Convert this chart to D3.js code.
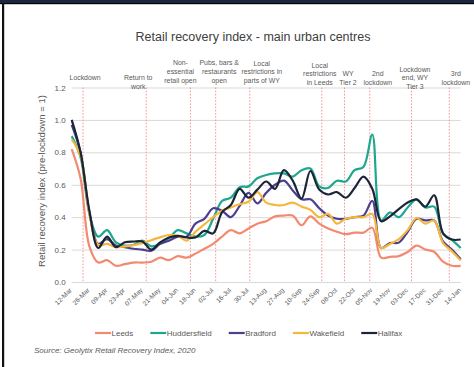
<!DOCTYPE html>
<html>
<head>
<meta charset="utf-8">
<script src="https://cdnjs.cloudflare.com/ajax/libs/d3/7.8.5/d3.min.js"></script>
<style>
body { margin: 0; background: #fff; }
svg { display: block; font-family: "Liberation Sans", Arial, sans-serif; }
</style>
</head>
<body>
<div id="chart"></div>
<script>
// weekly index values, first week 12-Mar-2020
var firstWeek = "2020-03-12";

var leeds = [0.82, 0.64, 0.22, 0.12, 0.135, 0.10, 0.11, 0.12, 0.12, 0.125,
    0.15, 0.135, 0.16, 0.15, 0.175, 0.205, 0.235, 0.28, 0.32, 0.30,
    0.33, 0.36, 0.375, 0.405, 0.41, 0.41, 0.35, 0.405, 0.36, 0.33,
    0.31, 0.295, 0.305, 0.305, 0.335, 0.15, 0.155, 0.16, 0.185, 0.225,
    0.20, 0.187, 0.125, 0.10, 0.10];
var huddersfield = [0.90, 0.77, 0.42, 0.28, 0.32, 0.245, 0.225, 0.23, 0.255, 0.22,
    0.235, 0.27, 0.32, 0.30, 0.28, 0.29, 0.39, 0.50, 0.52, 0.585,
    0.59, 0.64, 0.66, 0.67, 0.67, 0.65, 0.69, 0.70, 0.59, 0.58,
    0.625, 0.62, 0.69, 0.71, 0.91, 0.38, 0.43, 0.40, 0.46, 0.51,
    0.46, 0.465, 0.30, 0.26, 0.21];
var bradford = [0.97, 0.80, 0.43, 0.235, 0.265, 0.225, 0.215, 0.205, 0.20, 0.193,
    0.235, 0.255, 0.28, 0.28, 0.36, 0.39, 0.455, 0.44, 0.40, 0.47,
    0.55, 0.485, 0.55, 0.60, 0.625, 0.565, 0.51, 0.51, 0.455, 0.41,
    0.39, 0.39, 0.40, 0.41, 0.50, 0.21, 0.24, 0.243, 0.31, 0.39,
    0.38, 0.38, 0.25, 0.20, 0.14];
var wakefield = [0.88, 0.78, 0.42, 0.23, 0.235, 0.215, 0.22, 0.228, 0.24, 0.258,
    0.275, 0.29, 0.285, 0.255, 0.31, 0.355, 0.40, 0.44, 0.46, 0.48,
    0.495, 0.555, 0.49, 0.475, 0.475, 0.49, 0.465, 0.445, 0.40, 0.42,
    0.36, 0.39, 0.40, 0.40, 0.42, 0.21, 0.235, 0.265, 0.32, 0.395,
    0.36, 0.38, 0.24, 0.19, 0.133];
var halifax = [1.00, 0.80, 0.44, 0.21, 0.28, 0.215, 0.245, 0.25, 0.25, 0.20,
    0.245, 0.275, 0.285, 0.275, 0.275, 0.315, 0.30, 0.43, 0.475, 0.575,
    0.52, 0.57, 0.62, 0.575, 0.69, 0.625, 0.515, 0.685, 0.57, 0.54,
    0.555, 0.52, 0.58, 0.65, 0.575, 0.375, 0.405, 0.45, 0.49, 0.51,
    0.465, 0.535, 0.30, 0.262, 0.262];

var seriesNames = ["Leeds", "Huddersfield", "Bradford", "Wakefield", "Halifax"];
var seriesValues = [leeds, huddersfield, bradford, wakefield, halifax];

var tickLabels = ["12-Mar", "26-Mar", "09-Apr", "23-Apr", "07-May", "21-May", "04-Jun",
    "18-Jun", "02-Jul", "16-Jul", "30-Jul", "13-Aug", "27-Aug", "10-Sep", "24-Sep",
    "08-Oct", "22-Oct", "05-Nov", "19-Nov", "03-Dec", "17-Dec", "31-Dec", "14-Jan"];
var yTicks = [0, 0.2, 0.4, 0.6, 0.8, 1.0, 1.2];

var eventDates = ["2020-03-21", "2020-05-10", "2020-06-14", "2020-07-04", "2020-07-31",
    "2020-09-26", "2020-10-14", "2020-11-03", "2020-12-06", "2021-01-05"];
var eventNotes = [["Lockdown"], ["Return to", "work"], ["Non-", "essential", "retail open"],
    ["Pubs, bars &", "restaurants", "open"], ["Local", "restrictions in", "parts of WY"],
    ["Local", "restrictions", "in Leeds"], ["WY", "Tier 2"], ["2nd", "lockdown"],
    ["Lockdown", "end, WY", "Tier 3"], ["3rd", "lockdown"]];

(function() {

    var width = 474,
        height = 367;

    var colors = ["#f38a6f", "#1fa78e", "#4a3f90", "#f5b73c", "#1c2438"];
    // where each note sits relative to its line (dx) and its last baseline
    var noteDx = [2, -8, -10, 3.5, 12, -2, 3.5, 8, 3.5, 6.5];
    var noteBase = [80, 88.5, 82.5, 82.5, 83, 85, 85, 84.5, 89, 85];

    var svg = d3.select("#chart")
        .append("svg")
        .attr("width", width)
        .attr("height", height)

    // frame of the screenshot
    svg.append("rect").attr("x", 0).attr("y", 0).attr("width", width).attr("height", 3).attr("fill", "#1b2740")
    svg.append("rect").attr("x", 0).attr("y", 3).attr("width", width).attr("height", 1.2).attr("fill", "#000")
    svg.append("rect").attr("x", 2).attr("y", 3).attr("width", 2.2).attr("height", height).attr("fill", "#111")

    var parse = d3.timeParse("%Y-%m-%d");
    var start = parse(firstWeek);
    var weeks = leeds.map(function(d, i) { return d3.timeDay.offset(start, i * 7); });

    var x = d3.scaleTime()
        .domain([weeks[0], weeks[weeks.length - 1]])
        .range([71.7, 460.7]);
    var y = d3.scaleLinear()
        .domain([0, 1.2])
        .range([282, 87.5]);

    svg.append("text")
        .attr("x", 253)
        .attr("y", 40.5)
        .attr("text-anchor", "middle")
        .attr("font-size", 12.5)
        .attr("fill", "#404040")
        .text("Retail recovery index - main urban centres")

    // gridlines + y labels
    var yAxis = d3.axisLeft(y)
        .tickValues(yTicks)
        .tickSize(-(x.range()[1] - x.range()[0]))
        .tickPadding(6)
        .tickFormat(d3.format(".1f"));
    var gy = svg.append("g")
        .attr("transform", "translate(" + x.range()[0] + ",0)")
        .call(yAxis)
    gy.select(".domain").remove()
    gy.selectAll("line").attr("stroke", "#d9d9d9")
    gy.selectAll("text").attr("fill", "#595959").attr("font-size", 8)
        .attr("font-family", "Liberation Sans, Arial, sans-serif")

    svg.append("text")
        .attr("transform", "translate(45,181) rotate(-90)")
        .attr("text-anchor", "middle")
        .attr("font-size", 9.6)
        .attr("fill", "#595959")
        .text("Retail recovery index (pre-lockdown = 1)")

    // event lines
    svg.selectAll(".event")
        .data(eventDates)
        .enter().append("line")
        .attr("class", "event")
        .attr("x1", function(d) { return x(parse(d)); })
        .attr("x2", function(d) { return x(parse(d)); })
        .attr("y1", y(1.2))
        .attr("y2", y(0))
        .attr("stroke", "#f08a8a")
        .attr("stroke-width", 0.9)
        .attr("stroke-dasharray", "1.6,1.6")

    var notes = svg.selectAll(".note")
        .data(eventNotes)
        .enter().append("text")
        .attr("class", "note")
        .attr("text-anchor", "middle")
        .attr("font-size", 6.9)
        .attr("fill", "#595959")
    notes.each(function(lines, i) {
        var cx = x(parse(eventDates[i])) + noteDx[i];
        d3.select(this).selectAll("tspan")
            .data(lines)
            .enter().append("tspan")
            .attr("x", cx)
            .attr("y", function(d, j) { return noteBase[i] - (lines.length - 1 - j) * 8.6; })
            .text(function(d) { return d; })
    })

    // x tick labels (every other week)
    svg.selectAll(".xlab")
        .data(tickLabels)
        .enter().append("text")
        .attr("class", "xlab")
        .attr("transform", function(d, i) {
            return "translate(" + (x(weeks[i * 2]) - 1) + ",289) rotate(-45)";
        })
        .attr("text-anchor", "end")
        .attr("dy", "0.35em")
        .attr("font-size", 6.6)
        .attr("fill", "#595959")
        .text(function(d) { return d; })

    var line = d3.line()
        .x(function(d, i) { return x(weeks[i]); })
        .y(function(d) { return y(d); })
        .curve(d3.curveCatmullRom.alpha(0.5));

    svg.selectAll(".series")
        .data(seriesValues)
        .enter().append("path")
        .attr("class", "series")
        .attr("d", line)
        .attr("fill", "none")
        .attr("stroke", function(d, i) { return colors[i]; })
        .attr("stroke-width", 2.2)
        .attr("stroke-linejoin", "round")

    // legend
    var legend = svg.append("g").attr("transform", "translate(0,333)");
    var items = legend.selectAll(".item")
        .data(seriesNames)
        .enter().append("g")
        .attr("class", "item")
    items.append("line")
        .attr("x1", 0).attr("x2", 16)
        .attr("stroke", function(d, i) { return colors[i]; })
        .attr("stroke-width", 2.2)
    items.append("text")
        .attr("x", 16.5)
        .attr("dy", "0.35em")
        .attr("font-size", 8)
        .attr("fill", "#595959")
        .text(function(d) { return d; })
    var pos = 95;
    items.each(function() {
        d3.select(this).attr("transform", "translate(" + pos + ",0)");
        pos += 16.5 + d3.select(this).select("text").node().getComputedTextLength() + 17;
    })

    svg.append("text")
        .attr("x", 34)
        .attr("y", 353)
        .attr("font-size", 8)
        .attr("font-style", "italic")
        .attr("fill", "#595959")
        .text("Source: Geolytix Retail Recovery Index, 2020")

})();
</script>
</body>
</html>
